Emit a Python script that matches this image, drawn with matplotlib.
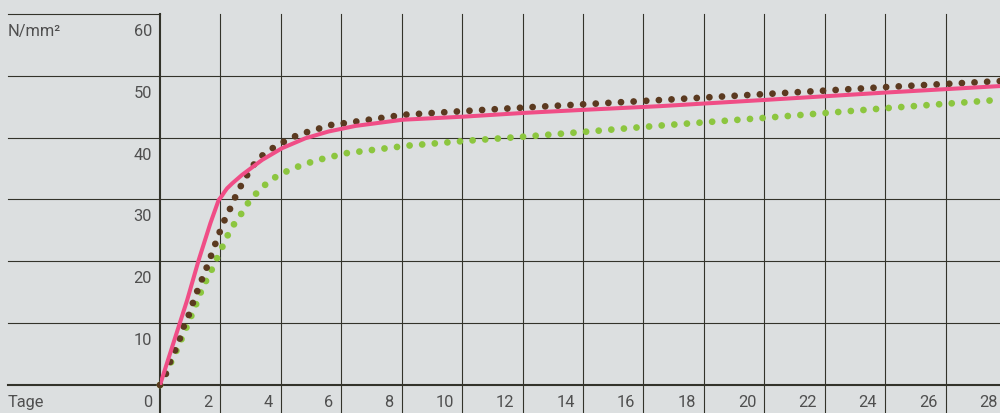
import matplotlib
matplotlib.use("Agg")
import matplotlib.pyplot as plt
from matplotlib import transforms

# values (days vs. N/mm2)
PINK_X = [0, 0.90, 1.28, 1.67, 1.94, 2.05, 2.13, 2.22, 2.39, 2.72, 3.38, 4.04,
          4.81, 5.58, 6.47, 8.03, 10.05, 12.03, 14.02, 16.56, 20.01, 24.03, 28]
PINK_Y = [0, 13.75, 20.2, 26.2, 29.9, 30.6, 31.2, 31.8, 32.6, 34.0, 36.4, 38.3,
          39.9, 41.0, 41.9, 42.9, 43.4, 44.0, 44.5, 45.1, 46.1, 47.3, 48.4]

BROWN_X = [0, 0.18, 0.34, 0.51, 0.65, 0.78, 0.95, 1.09, 1.28, 1.50, 1.69, 1.94,
           2.11, 2.31, 2.45, 2.63, 2.77, 2.97, 3.16, 3.43, 3.85, 4.17, 4.50,
           4.87, 5.22, 5.58, 6.19, 8.06, 10.05, 12.15, 14.02, 16.8, 20.2,
           24.09, 28]
BROWN_Y = [0, 1.6, 3.8, 5.7, 7.4, 9.4, 11.3, 13.3, 15.8, 18.4, 20.9, 24.3,
           26.4, 28.4, 30.0, 31.7, 33.2, 34.5, 36.1, 37.3, 38.7, 39.5, 40.3,
           40.9, 41.4, 42.0, 42.4, 43.7, 44.3, 44.9, 45.4, 46.15, 47.1,
           48.2, 49.2]

GREEN_X = [0, 0.25, 0.55, 0.85, 1.15, 1.39, 1.59, 1.78, 1.92, 2.08, 2.24, 2.42,
           2.62, 2.83, 3.11, 3.41, 3.74, 4.12, 4.50, 4.90, 5.32, 5.75, 6.18,
           8.18, 10.16, 12.15, 14.19, 16.67, 20.0, 24.11, 28]
GREEN_Y = [0, 2.5, 5.6, 9.0, 12.5, 15.5, 17.5, 19.3, 20.9, 22.5, 24.2, 25.8,
           27.1, 28.9, 30.6, 32.1, 33.4, 34.4, 35.2, 35.9, 36.5, 37.0, 37.5,
           38.7, 39.5, 40.2, 41.0, 42.0, 43.2, 44.8, 46.2]

X_TICKS = list(range(2, 30, 2))
Y_TICKS = [0, 10, 20, 30, 40, 50, 60]

BG = "#dcdfe0"
GRID = "#33332a"
TEXT = "#4f4f4f"
PINK = "#f04d86"
BROWN = "#5b3a20"
GREEN = "#8cc63f"

W, H = 1000, 413
fig = plt.figure(figsize=(W / 100, H / 100), dpi=100, facecolor=BG)
ax = fig.add_axes([160 / W, 28 / H, 840 / W, 371 / H])
ax.set_facecolor("white")
ax.set_xlim(0, 27.8)
ax.set_ylim(0, 60)
ax.set_axis_off()
ax.patch.set_visible(True)

font = dict(family=["Roboto", "DejaVu Sans"], fontsize=11.8, color=TEXT)

# vertical lines run down through the bottom strip
vtrans = transforms.blended_transform_factory(ax.transData, fig.transFigure)
top = 1 - 14 / H
for x in [0] + X_TICKS[:-1]:
    lw = 1.5 if x == 0 else 0.8
    ax.plot([x, x], [0, top], transform=vtrans, color=GRID, lw=lw,
            clip_on=False, zorder=1)

# horizontal lines start inside the grey panel
htrans = transforms.blended_transform_factory(fig.transFigure, ax.transData)
for y in Y_TICKS:
    x1 = 160 / W if y == 60 else 1
    lw = 1.5 if y == 0 else 0.8
    ax.plot([8 / W, x1], [y, y], transform=htrans, color=GRID, lw=lw,
            clip_on=False, zorder=1)

# tick labels
px_y = 60 / 371  # data units per pixel in y
for y in Y_TICKS:
    ax.text(152 / W, y - 22 * px_y, str(y), transform=htrans,
            ha="right", va="baseline", **font)
px_x = 27.8 / 840
for x in X_TICKS:
    ax.text(x - 8 * px_x, -22 * px_y, str(x), ha="right", va="baseline",
            clip_on=False, **font)
ax.text(8 / W, 60 - 22 * px_y, "N/mm²", transform=htrans, ha="left",
        va="baseline", **font)
ax.text(8 / W, -22 * px_y, "Tage", transform=htrans, ha="left",
        va="baseline", **font)

# curves
dot_lw = 4.9
dots = (0, (0.001, 9.1 / dot_lw))
ax.plot(GREEN_X, GREEN_Y, color=GREEN, lw=dot_lw, linestyle=dots,
        dash_capstyle="round", clip_on=False, zorder=3)
ax.plot(BROWN_X, BROWN_Y, color=BROWN, lw=dot_lw, linestyle=dots,
        dash_capstyle="round", clip_on=False, zorder=4)
ax.plot(PINK_X, PINK_Y, color=PINK, lw=2.9, solid_joinstyle="round",
        solid_capstyle="round", zorder=5)

fig.savefig("out.png", dpi=100, facecolor=BG)
